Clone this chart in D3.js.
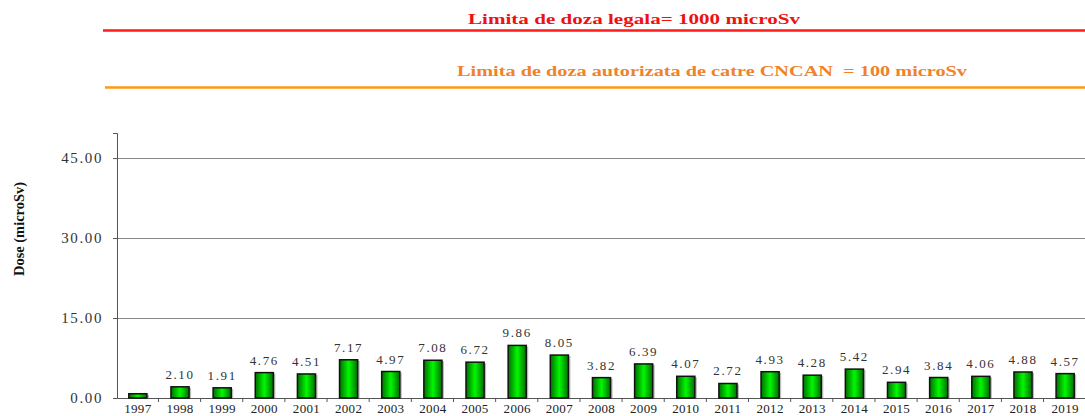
<!DOCTYPE html>
<html>
<head>
<meta charset="utf-8">
<script src="https://cdn.jsdelivr.net/npm/d3@7"></script>
<style>
  body { margin: 0; background: #fff; }
  svg { display: block; }
</style>
</head>
<body>
<div id="chart"></div>
<script>
// data
var years = ["1997","1998","1999","2000","2001","2002","2003","2004","2005","2006","2007","2008",
             "2009","2010","2011","2012","2013","2014","2015","2016","2017","2018","2019"];
var doses = [0.80, 2.10, 1.91, 4.76, 4.51, 7.17, 4.97, 7.08, 6.72, 9.86, 8.05, 3.82,
             6.39, 4.07, 2.72, 4.93, 4.28, 5.42, 2.94, 3.84, 4.06, 4.88, 4.57];
var doseLabels = [null, "2.10", "1.91", "4.76", "4.51", "7.17", "4.97", "7.08", "6.72", "9.86", "8.05", "3.82",
                  "6.39", "4.07", "2.72", "4.93", "4.28", "5.42", "2.94", "3.84", "4.06", "4.88", "4.57"];
var yTicks = [0, 15, 30, 45];
var limitTexts = ["Limita de doza legala= 1000 microSv",
                  "Limita de doza autorizata de catre CNCAN  = 100 microSv"];

var FONT = "'Liberation Serif', 'Times New Roman', Times, serif";
var W = 1085, H = 416;
var margin = {top: 133, right: -1, bottom: 18, left: 117};

var svg = d3.select("#chart").append("svg")
    .attr("width", W).attr("height", H);

var defs = svg.append("defs");
var grad = defs.append("linearGradient").attr("id", "barGrad")
    .attr("x1", "0%").attr("x2", "100%").attr("y1", "0%").attr("y2", "0%");
grad.append("stop").attr("offset", "0%").attr("stop-color", "#006e00");
grad.append("stop").attr("offset", "50%").attr("stop-color", "#00f800");
grad.append("stop").attr("offset", "100%").attr("stop-color", "#006e00");

// limit lines at the top
svg.append("text")
    .attr("x", 468).attr("y", 24)
    .attr("textLength", 332).attr("lengthAdjust", "spacingAndGlyphs")
    .style("font-family", FONT)
    .style("font-weight", "bold").style("font-size", "15px")
    .style("fill", "#ee1111")
    .style("white-space", "pre")
    .text(limitTexts[0]);
svg.append("line")
    .attr("x1", 103).attr("x2", W).attr("y1", 30.5).attr("y2", 30.5)
    .style("stroke", "#ff1a1a").style("stroke-width", 2.5);

svg.append("text")
    .attr("x", 457).attr("y", 76)
    .attr("textLength", 510).attr("lengthAdjust", "spacingAndGlyphs")
    .style("font-family", FONT)
    .style("font-weight", "bold").style("font-size", "15px")
    .style("fill", "#f0822a")
    .style("white-space", "pre")
    .text(limitTexts[1]);
svg.append("line")
    .attr("x1", 105).attr("x2", W).attr("y1", 87.5).attr("y2", 87.5)
    .style("stroke", "#ff9a10").style("stroke-width", 2.5);

var width = W - margin.left - margin.right,
    height = H - margin.top - margin.bottom;

var g = svg.append("g")
    .attr("transform", "translate(" + margin.left + "," + margin.top + ")");

var x = d3.scaleBand().domain(years).range([0, width]).paddingInner(0.57).paddingOuter(0.28);
var step = x.step();
var y = d3.scaleLinear().domain([0, 49.7]).range([height, 0]);

// grid
g.selectAll(".grid").data(yTicks.filter(function(d) { return d > 0; }))
  .enter().append("line")
    .attr("x1", 0).attr("x2", width)
    .attr("y1", function(d) { return Math.round(y(d)) + 0.5; })
    .attr("y2", function(d) { return Math.round(y(d)) + 0.5; })
    .style("stroke", "#8a8a8a").style("stroke-width", 1);

// y axis
var yAxis = g.append("g")
    .call(d3.axisLeft(y).tickValues(yTicks).tickFormat(d3.format(".2f")).tickSize(4).tickPadding(10));
yAxis.select(".domain").style("stroke", "#555");
yAxis.selectAll(".tick line").style("stroke", "#555");
yAxis.selectAll("text")
    .style("font-family", FONT)
    .style("font-size", "15px").style("letter-spacing", "1.6px")
    .style("fill", "#333");

// x axis
var xAxis = g.append("g")
    .attr("transform", "translate(0," + height + ")")
    .call(d3.axisBottom(x).tickSize(0).tickPadding(6));
xAxis.select(".domain").style("stroke", "#555");
xAxis.selectAll("text")
    .style("font-family", FONT)
    .style("font-size", "13px").style("letter-spacing", "0.3px")
    .style("fill", "#222");
// tick marks between categories
g.selectAll(".xsep").data(years.slice(1))
  .enter().append("line")
    .attr("x1", function(d) { return x(d) - step * 0.5 * x.paddingInner() - 0.5; })
    .attr("x2", function(d) { return x(d) - step * 0.5 * x.paddingInner() - 0.5; })
    .attr("y1", height).attr("y2", height + 4)
    .style("stroke", "#555");

// bar shadows
g.selectAll(".shadow").data(doses)
  .enter().append("rect")
    .attr("x", function(d, i) { return x(years[i]) + 2; })
    .attr("y", function(d) { return y(d) + 1; })
    .attr("width", x.bandwidth())
    .attr("height", function(d) { return height - y(d) - 1; })
    .style("fill", "#bbb");

// bars
g.selectAll(".bar").data(doses)
  .enter().append("rect")
    .attr("x", function(d, i) { return x(years[i]); })
    .attr("y", function(d) { return y(d); })
    .attr("width", x.bandwidth())
    .attr("height", function(d) { return height - y(d); })
    .style("fill", "url(#barGrad)")
    .style("stroke", "#111").style("stroke-width", 1.5);

// value labels
g.selectAll(".lbl").data(doses)
  .enter().append("text")
    .attr("x", function(d, i) { return x(years[i]) + x.bandwidth() / 2; })
    .attr("y", function(d) { return y(d) - 8; })
    .attr("text-anchor", "middle")
    .style("font-family", FONT)
    .style("font-size", "13px").style("letter-spacing", "1.6px")
    .style("fill", "#333")
    .text(function(d, i) { return doseLabels[i]; });

// y title
svg.append("text")
    .attr("transform", "translate(24,229) rotate(-90)")
    .attr("text-anchor", "middle")
    .attr("textLength", 94).attr("lengthAdjust", "spacingAndGlyphs")
    .style("font-family", FONT)
    .style("font-weight", "bold").style("font-size", "15px")
    .style("fill", "#111")
    .text("Dose (microSv)");
</script>
</body>
</html>
